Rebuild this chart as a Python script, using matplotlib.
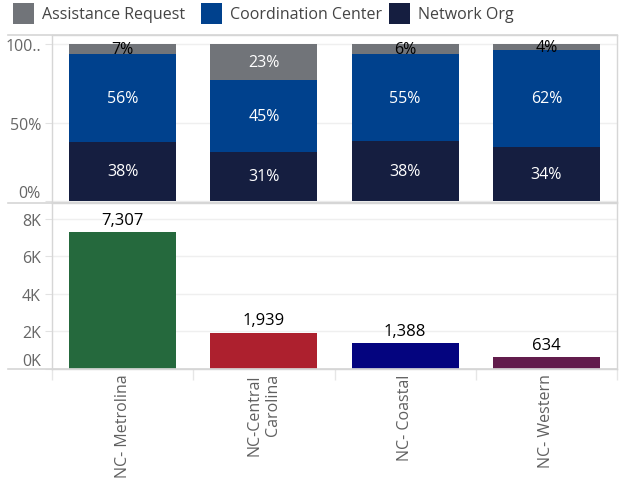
import matplotlib
matplotlib.use("Agg")
import matplotlib.pyplot as plt
from matplotlib.patches import Rectangle
from matplotlib.lines import Line2D
import numpy as np

plt.rcParams['font.family'] = ['Open Sans', 'DejaVu Sans']

categories = ["NC- Metrolina", "NC-Central\nCarolina", "NC- Coastal", "NC- Western"]
series_names = ["Assistance Request", "Coordination Center", "Network Org"]
network_org = [37.8, 31.4, 38.2, 34.4]
coordination = [55.6, 45.4, 55.4, 61.8]
assistance = [6.6, 23.2, 6.4, 3.8]
totals = [7307, 1939, 1388, 634]
pct_ticks = [0, 50, 100]
pct_ticklabels = ["0%", "50%", "100.."]
count_ticks = [0, 2000, 4000, 6000, 8000]
count_ticklabels = ["0K", "2K", "4K", "6K", "8K"]

series_colors = {"Assistance Request": "#717479", "Coordination Center": "#00418d", "Network Org": "#151e40"}
bar_colors = ["#25693d", "#ad202e", "#04047f", "#621c4c"]

W, H = 626, 485
fig = plt.figure(figsize=(W / 100, H / 100), dpi=100)

def fx(px):
    return px / W
def fy(py):
    return 1 - py / H

ax_left, ax_right = 52, 617
ax1 = fig.add_axes([fx(ax_left), fy(203), fx(ax_right - ax_left), (203 - 36) / H])
ax2 = fig.add_axes([fx(ax_left), fy(370), fx(ax_right - ax_left), (370 - 204) / H])

x = np.arange(len(categories))
bw = 0.757
tick_color = "#666666"
spine_color = "#d6d6d6"
grid_color = "#efefef"

# Top: 100% stacked bars
bottom = np.zeros(len(categories))
stack = [("Network Org", network_org), ("Coordination Center", coordination), ("Assistance Request", assistance)]
for name, vals in stack:
    v = np.array(vals) / 100.0
    ax1.bar(x, v, bw, bottom=bottom, color=series_colors[name], zorder=2)
    for i in range(len(categories)):
        yc = bottom[i] + v[i] / 2
        txtcol = "white"
        if name == "Assistance Request" and vals[i] < 10:
            txtcol = "black"
        ax1.text(x[i], yc, f"{round(vals[i]):d}%", ha="center", va="center",
                 color=txtcol, fontsize=11.5, zorder=3)
    bottom = bottom + v

ax1.set_xlim(-0.5, len(categories) - 0.5)
ax1.set_ylim(-0.006, 1.057)
ax1.set_yticks([t / 100 for t in pct_ticks])
ax1.set_yticklabels(pct_ticklabels)
ax1.set_xticks([])

# Bottom: totals
ax2.bar(x, totals, bw, color=bar_colors, zorder=2)
for i, v in enumerate(totals):
    ax2.annotate(f"{v:,}", (x[i], v), xytext=(0, 3), textcoords="offset points",
                 ha="center", va="bottom", fontsize=12, color="black")
ax2.set_xlim(-0.5, len(categories) - 0.5)
ax2.set_ylim(0, 8853)
ax2.set_yticks(count_ticks)
ax2.set_yticklabels(count_ticklabels)
ax2.set_xticks(x)
ax2.set_xticklabels(categories, rotation=90, ha="center", va="top", multialignment="right",
                    fontsize=11.5, color="#606060")
ax2.set_xticks(np.arange(-0.5, len(categories), 1.0), minor=True)
ax2.tick_params(axis="x", which="major", length=0, pad=3)
ax2.tick_params(axis="x", which="minor", length=8, color="#e6e6e6", width=1)

for ax in (ax1, ax2):
    ax.tick_params(axis="y", length=5, color="#e2e2e2", labelsize=11.5, labelcolor=tick_color, pad=3)
    ax.yaxis.grid(True, color=grid_color, linewidth=1, zorder=0)
    ax.set_axisbelow(True)
    for s in ax.spines.values():
        s.set_color(spine_color)
        s.set_linewidth(1)

for ax, zero_label in ((ax1, "0%"), (ax2, "0K")):
    for lab in ax.get_yticklabels():
        if lab.get_text() == zero_label:
            lab.set_va("bottom")

# frame lines extending to the left
for py in (36, 203.5, 370):
    fig.add_artist(Line2D([fx(8), fx(ax_right)], [fy(py), fy(py)], color=spine_color,
                          linewidth=1.2, transform=fig.transFigure))

# Legend
legend_items = [("Assistance Request", 13), ("Coordination Center", 201), ("Network Org", 389)]
for name, px in legend_items:
    fig.add_artist(Rectangle((fx(px), fy(25)), 21 / W, 21 / H, transform=fig.transFigure,
                             facecolor=series_colors[name], edgecolor="none"))
    fig.text(fx(px + 29), fy(15), name, ha="left", va="center", fontsize=11.5, color="#444444")

fig.savefig("out.png", dpi=100)
